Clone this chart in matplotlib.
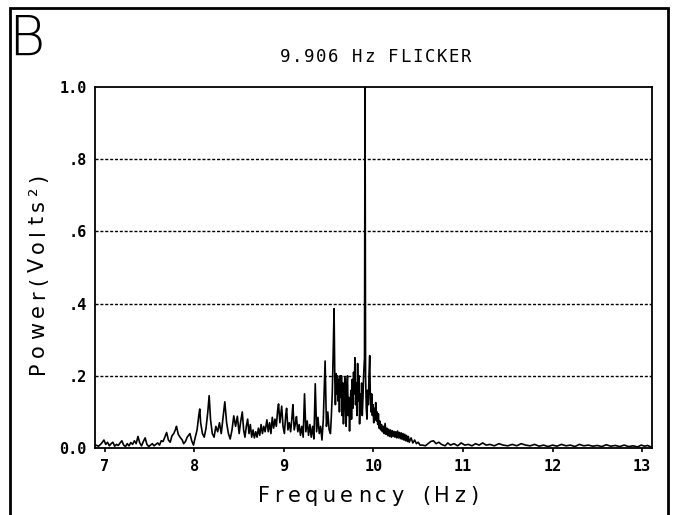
import matplotlib.pyplot as plt
from matplotlib.patches import Rectangle

# power spectrum traced vertex by vertex (Hz, Volts^2)
freq = [
    6.90, 6.93, 6.96, 6.99, 7.01, 7.03, 7.05, 7.07, 7.09, 7.11, 7.13, 7.15,
    7.17, 7.19, 7.21, 7.23, 7.25, 7.27, 7.29, 7.31, 7.33, 7.35, 7.37, 7.39,
    7.41, 7.43, 7.45, 7.47, 7.49, 7.51, 7.53, 7.55, 7.57, 7.59, 7.61, 7.63,
    7.65, 7.67, 7.69, 7.71, 7.73, 7.75, 7.77, 7.79, 7.80, 7.82, 7.84, 7.865,
    7.88, 7.90, 7.92, 7.95, 7.97, 7.99, 8.01, 8.03, 8.05, 8.06, 8.07, 8.09,
    8.11, 8.13, 8.15, 8.165, 8.18, 8.20, 8.22, 8.24, 8.26, 8.28, 8.30, 8.32,
    8.34, 8.36, 8.38, 8.40, 8.42, 8.44, 8.46, 8.48, 8.50, 8.515, 8.535, 8.55,
    8.565, 8.58, 8.595, 8.61, 8.625, 8.64, 8.655, 8.67, 8.685, 8.70, 8.715, 8.73,
    8.745, 8.76, 8.775, 8.79, 8.81, 8.825, 8.84, 8.855, 8.87, 8.885, 8.90, 8.915,
    8.93, 8.94, 8.955, 8.975, 8.99, 9.005, 9.02, 9.03, 9.045, 9.06, 9.075, 9.09,
    9.10, 9.115, 9.13, 9.14, 9.155, 9.17, 9.185, 9.20, 9.215, 9.23, 9.245, 9.26,
    9.275, 9.29, 9.305, 9.32, 9.335, 9.35, 9.365, 9.38, 9.395, 9.41, 9.425, 9.44,
    9.46, 9.475, 9.49, 9.505, 9.52, 9.53, 9.54, 9.55, 9.56, 9.568, 9.575, 9.583,
    9.59, 9.598, 9.605, 9.613, 9.62, 9.628, 9.635, 9.643, 9.65, 9.658, 9.665, 9.673,
    9.68, 9.688, 9.695, 9.703, 9.71, 9.718, 9.725, 9.733, 9.74, 9.748, 9.755, 9.763,
    9.77, 9.778, 9.785, 9.793, 9.80, 9.808, 9.815, 9.823, 9.83, 9.838, 9.845, 9.853,
    9.86, 9.868, 9.875, 9.883, 9.89, 9.90, 9.906, 9.912, 9.92, 9.928, 9.935, 9.943,
    9.95, 9.958, 9.965, 9.973, 9.98, 9.988, 9.995, 10.003, 10.01, 10.018, 10.025, 10.033,
    10.04, 10.048, 10.055, 10.063, 10.07, 10.08, 10.09, 10.10, 10.11, 10.12, 10.13, 10.14,
    10.15, 10.16, 10.17, 10.18, 10.19, 10.20, 10.21, 10.22, 10.23, 10.24, 10.25, 10.26,
    10.27, 10.28, 10.29, 10.30, 10.31, 10.32, 10.33, 10.34, 10.35, 10.36, 10.37, 10.38,
    10.39, 10.40, 10.42, 10.44, 10.46, 10.48, 10.50, 10.52, 10.55, 10.58, 10.61, 10.64,
    10.67, 10.70, 10.73, 10.76, 10.80, 10.83, 10.86, 10.90, 10.94, 10.98, 11.02, 11.06,
    11.10, 11.14, 11.18, 11.22, 11.26, 11.30, 11.35, 11.40, 11.45, 11.50, 11.55, 11.60,
    11.65, 11.70, 11.75, 11.80, 11.85, 11.90, 11.95, 12.00, 12.05, 12.10, 12.15, 12.20,
    12.25, 12.30, 12.35, 12.40, 12.45, 12.50, 12.55, 12.60, 12.65, 12.70, 12.75, 12.80,
    12.85, 12.90, 12.95, 12.99, 13.03, 13.06, 13.09,
]
power = [
    0.008, 0.005, 0.012, 0.022, 0.010, 0.016, 0.006, 0.012, 0.016, 0.005, 0.010, 0.007,
    0.014, 0.020, 0.008, 0.004, 0.012, 0.006, 0.015, 0.010, 0.020, 0.012, 0.032, 0.014,
    0.006, 0.018, 0.028, 0.010, 0.004, 0.008, 0.012, 0.006, 0.010, 0.014, 0.008, 0.020,
    0.018, 0.030, 0.043, 0.022, 0.016, 0.034, 0.040, 0.052, 0.060, 0.038, 0.030, 0.022,
    0.012, 0.018, 0.030, 0.040, 0.020, 0.008, 0.030, 0.050, 0.092, 0.108, 0.070, 0.040,
    0.030, 0.055, 0.100, 0.145, 0.080, 0.040, 0.030, 0.060, 0.045, 0.070, 0.040, 0.085,
    0.128, 0.070, 0.040, 0.025, 0.050, 0.089, 0.060, 0.088, 0.040, 0.070, 0.100, 0.050,
    0.030, 0.060, 0.080, 0.040, 0.065, 0.030, 0.050, 0.028, 0.045, 0.030, 0.055, 0.035,
    0.065, 0.040, 0.060, 0.045, 0.078, 0.045, 0.070, 0.040, 0.085, 0.055, 0.080, 0.060,
    0.105, 0.122, 0.070, 0.116, 0.060, 0.040, 0.090, 0.110, 0.050, 0.070, 0.045, 0.085,
    0.120, 0.050, 0.070, 0.087, 0.045, 0.065, 0.035, 0.060, 0.030, 0.150, 0.045, 0.075,
    0.035, 0.065, 0.030, 0.060, 0.025, 0.178, 0.045, 0.085, 0.040, 0.060, 0.022, 0.080,
    0.241, 0.060, 0.100, 0.050, 0.040, 0.090, 0.150, 0.260, 0.386, 0.200, 0.120, 0.206,
    0.150, 0.200, 0.130, 0.190, 0.100, 0.200, 0.140, 0.200, 0.090, 0.180, 0.067, 0.150,
    0.195, 0.110, 0.060, 0.170, 0.200, 0.090, 0.140, 0.047, 0.120, 0.160, 0.080, 0.190,
    0.110, 0.210, 0.150, 0.250, 0.120, 0.180, 0.090, 0.234, 0.130, 0.200, 0.067, 0.150,
    0.100, 0.180, 0.090, 0.140, 0.200, 0.250, 1.000, 0.200, 0.110, 0.080, 0.160, 0.120,
    0.200, 0.256, 0.140, 0.100, 0.150, 0.090, 0.120, 0.070, 0.110, 0.080, 0.126, 0.075,
    0.100, 0.065, 0.095, 0.055, 0.075, 0.050, 0.065, 0.045, 0.060, 0.040, 0.068, 0.038,
    0.055, 0.034, 0.052, 0.032, 0.050, 0.030, 0.048, 0.032, 0.046, 0.030, 0.045, 0.028,
    0.047, 0.028, 0.043, 0.026, 0.042, 0.024, 0.040, 0.022, 0.038, 0.020, 0.035, 0.018,
    0.032, 0.016, 0.028, 0.014, 0.022, 0.012, 0.016, 0.008, 0.008, 0.006, 0.012, 0.018,
    0.020, 0.012, 0.016, 0.010, 0.006, 0.014, 0.008, 0.012, 0.006, 0.014, 0.008, 0.010,
    0.006, 0.012, 0.008, 0.014, 0.008, 0.010, 0.006, 0.012, 0.008, 0.006, 0.010, 0.006,
    0.012, 0.008, 0.006, 0.010, 0.005, 0.008, 0.004, 0.008, 0.005, 0.010, 0.006, 0.008,
    0.004, 0.010, 0.006, 0.008, 0.005, 0.007, 0.004, 0.009, 0.005, 0.007, 0.004, 0.008,
    0.004, 0.006, 0.003, 0.008, 0.005, 0.007, 0.004,
]

xticks = [7, 8, 9, 10, 11, 12, 13]
yticks = [0.0, 0.2, 0.4, 0.6, 0.8, 1.0]
ytick_labels = ['0.0', '.2', '.4', '.6', '.8', '1.0']

W, H = 680, 515
mono = 'DejaVu Sans Mono'


def spaced(fig, s, start, end, **kw):
    """Fixed-pitch lettering: start/end are pixel centres of first/last char."""
    n = len(s) - 1
    for i, ch in enumerate(s):
        if ch == ' ':
            continue
        px = start[0] + (end[0] - start[0]) * i / n
        py = start[1] + (end[1] - start[1]) * i / n
        fig.text(px / W, 1 - py / H, ch, ha='center', va='center', **kw)


def tracked(fig, s, center, track, vertical=False, **kw):
    """Proportional lettering with extra space (px) between characters."""
    r = fig.canvas.get_renderer()
    widths = []
    for ch in s:
        t = fig.text(0, 0, 'n' if ch == ' ' else ch, **kw)
        w = t.get_window_extent(r).width
        t.remove()
        widths.append(w * 0.7 if ch == ' ' else w)
    total = sum(widths) + track * (len(s) - 1)
    pos = -total / 2
    for ch, w in zip(s, widths):
        c = pos + w / 2
        pos += w + track
        if ch == ' ':
            continue
        if vertical:
            px, py = center[0], center[1] - c
            fig.text(px / W, 1 - py / H, ch, ha='center', va='center',
                     rotation=90, **kw)
        else:
            px, py = center[0] + c, center[1]
            fig.text(px / W, 1 - py / H, ch, ha='center', va='center', **kw)


fig = plt.figure(figsize=(6.8, 5.15), dpi=100)
ax = fig.add_axes([0.1397, 0.1301, 0.819, 0.701])

ax.plot(freq, power, color='black', lw=1.2)

ax.set_xlim(6.89, 13.11)
ax.set_ylim(0, 1.0)
ax.set_xticks(xticks)
ax.set_xticklabels([str(t) for t in xticks], fontfamily=mono,
                   fontweight='bold', fontsize=11)
ax.set_yticks(yticks)
ax.set_yticklabels(ytick_labels, fontfamily=mono, fontweight='bold',
                   fontsize=11)
ax.tick_params(axis='x', direction='out', length=3, width=1.2, pad=5)
ax.tick_params(axis='y', length=0, pad=6)

for y in yticks[1:-1]:
    ax.axhline(y, color='black', lw=1.0, ls=(0, (2.2, 1.3)))

for s in ax.spines.values():
    s.set_linewidth(1.3)

# outer frame around the panel
fig.patches.append(Rectangle((0.0147, -0.01), 0.9676, 0.9945,
                             transform=fig.transFigure, fill=False,
                             edgecolor='black', lw=2.0))

fig.text(0.012, 0.893, 'B', fontsize=40, fontweight='light',
         fontfamily='DejaVu Sans', va='baseline', ha='left')
spaced(fig, '9.906 Hz FLICKER', (285, 57), (466, 57),
       fontsize=12.5, fontfamily=mono)
tracked(fig, 'Frequency (Hz)', (368, 496), 4.5,
        fontsize=15, fontfamily='DejaVu Sans')
tracked(fig, 'Power(Volts²)', (38, 274), 5.0, vertical=True,
        fontsize=15, fontfamily='DejaVu Sans')

fig.savefig('out.png', dpi=100)
